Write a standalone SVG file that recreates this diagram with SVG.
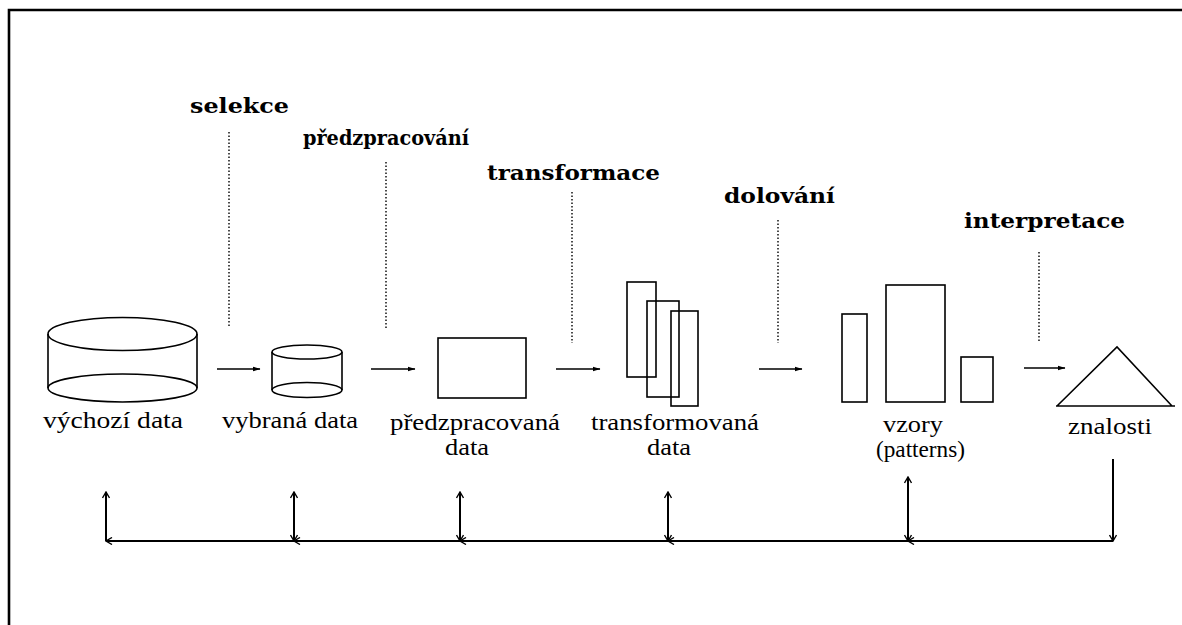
<svg xmlns="http://www.w3.org/2000/svg" width="1182" height="625" viewBox="0 0 1182 625">
  <style>
    .ln { fill: none; stroke: #000; stroke-width: 1.6; }
    .dot { fill: none; stroke: #000; stroke-width: 1.4; stroke-dasharray: 1.5 2; }
    .flow { fill: none; stroke: #000; stroke-width: 1.6; marker-end: url(#head); }
    .fb { fill: none; stroke: #000; stroke-width: 2; }
    .step { font-family: "DejaVu Serif", "Liberation Serif", serif; font-weight: bold; font-size: 21px; fill: #000; }
    .lbl { font-family: "Liberation Serif", "DejaVu Serif", serif; font-size: 23px; fill: #000; }
  </style>
  <defs>
    <marker id="head" viewBox="0 0 8 6" refX="7.5" refY="3" markerWidth="8" markerHeight="6" markerUnits="userSpaceOnUse" orient="auto">
      <path d="M0,0.5 L8,3 L0,5.5 z" fill="#000"/>
    </marker>
    <marker id="chev" viewBox="0 0 8 8" refX="7" refY="4" markerWidth="8" markerHeight="8" markerUnits="userSpaceOnUse" orient="auto-start-reverse">
      <path d="M1,0.5 L7,4 L1,7.5" fill="none" stroke="#000" stroke-width="1.4"/>
    </marker>
  </defs>

  <rect width="1182" height="625" fill="#fff"/>
  <!-- frame -->
  <path d="M9,625 V10 H1182" fill="none" stroke="#000" stroke-width="2.6"/>

  <!-- step headings with their dotted guide lines -->
  <g id="selekce">
    <text class="step" x="190" y="113" textLength="99" lengthAdjust="spacingAndGlyphs">selekce</text>
    <line class="dot" x1="229" y1="132" x2="229" y2="328"/>
  </g>
  <g id="predzpracovani">
    <text class="step" x="303" y="145" textLength="166" lengthAdjust="spacingAndGlyphs">předzpracování</text>
    <line class="dot" x1="386" y1="162" x2="386" y2="330"/>
  </g>
  <g id="transformace">
    <text class="step" x="487" y="180" textLength="173" lengthAdjust="spacingAndGlyphs">transformace</text>
    <line class="dot" x1="572" y1="192" x2="572" y2="343"/>
  </g>
  <g id="dolovani">
    <text class="step" x="724" y="203" textLength="111" lengthAdjust="spacingAndGlyphs">dolování</text>
    <line class="dot" x1="778" y1="220" x2="778" y2="343"/>
  </g>
  <g id="interpretace">
    <text class="step" x="964" y="228" textLength="161" lengthAdjust="spacingAndGlyphs">interpretace</text>
    <line class="dot" x1="1039" y1="252" x2="1039" y2="342"/>
  </g>

  <!-- data stages -->
  <g id="vychozi-data">
    <ellipse class="ln" cx="122.5" cy="334" rx="74.5" ry="16.5"/>
    <ellipse class="ln" cx="122.5" cy="388" rx="74.5" ry="14"/>
    <line class="ln" x1="48" y1="334" x2="48" y2="388"/>
    <line class="ln" x1="197" y1="334" x2="197" y2="388"/>
    <text class="lbl" x="43" y="428" textLength="140" lengthAdjust="spacingAndGlyphs">výchozí data</text>
  </g>
  <g id="vybrana-data">
    <ellipse class="ln" cx="307" cy="352" rx="35" ry="7"/>
    <ellipse class="ln" cx="307" cy="390" rx="35" ry="7.5"/>
    <line class="ln" x1="272" y1="352" x2="272" y2="390"/>
    <line class="ln" x1="342" y1="352" x2="342" y2="390"/>
    <text class="lbl" x="222" y="428" textLength="136" lengthAdjust="spacingAndGlyphs">vybraná data</text>
  </g>
  <g id="predzpracovana-data">
    <rect class="ln" x="438" y="338" width="88" height="60"/>
    <text class="lbl" x="390" y="430" textLength="170" lengthAdjust="spacingAndGlyphs">předzpracovaná</text>
    <text class="lbl" x="445" y="455" textLength="44" lengthAdjust="spacingAndGlyphs">data</text>
  </g>
  <g id="transformovana-data">
    <rect class="ln" x="627" y="282" width="29" height="95"/>
    <rect class="ln" x="647" y="301" width="32" height="96"/>
    <rect class="ln" x="671" y="311" width="27" height="95"/>
    <text class="lbl" x="591" y="430" textLength="168" lengthAdjust="spacingAndGlyphs">transformovaná</text>
    <text class="lbl" x="647" y="455" textLength="44" lengthAdjust="spacingAndGlyphs">data</text>
  </g>
  <g id="vzory">
    <rect class="ln" x="842" y="314" width="25" height="88"/>
    <rect class="ln" x="886" y="285" width="59" height="117"/>
    <rect class="ln" x="961" y="357" width="32" height="45"/>
    <text class="lbl" x="883" y="432" textLength="60" lengthAdjust="spacingAndGlyphs">vzory</text>
    <text class="lbl" x="876" y="457" textLength="89" lengthAdjust="spacingAndGlyphs">(patterns)</text>
  </g>
  <g id="znalosti">
    <path class="ln" d="M1057,406 L1117,347 L1172,406 M1056,406 H1175"/>
    <text class="lbl" x="1068" y="434" textLength="84" lengthAdjust="spacingAndGlyphs">znalosti</text>
  </g>

  <!-- connectors -->
  <g id="connectors">
    <line class="flow" x1="217" y1="369" x2="260" y2="369"/>
    <line class="flow" x1="371" y1="369" x2="415" y2="369"/>
    <line class="flow" x1="556" y1="369" x2="600" y2="369"/>
    <line class="flow" x1="759" y1="369" x2="802" y2="369"/>
    <line class="flow" x1="1024" y1="368" x2="1065" y2="368"/>

    <!-- feedback loop along the bottom -->
    <line class="fb" x1="1113" y1="459" x2="1113" y2="541" stroke-width="1.6" marker-end="url(#chev)"/>
    <line class="fb" x1="1113" y1="541" x2="908" y2="541" marker-end="url(#chev)"/>
    <line class="fb" x1="908" y1="541" x2="668" y2="541" marker-end="url(#chev)"/>
    <line class="fb" x1="668" y1="541" x2="460" y2="541" marker-end="url(#chev)"/>
    <line class="fb" x1="460" y1="541" x2="294" y2="541" marker-end="url(#chev)"/>
    <line class="fb" x1="294" y1="541" x2="106" y2="541" marker-end="url(#chev)"/>
    <line class="fb" x1="908" y1="541" x2="908" y2="477" marker-start="url(#chev)" marker-end="url(#chev)"/>
    <line class="fb" x1="668" y1="541" x2="668" y2="492" marker-start="url(#chev)" marker-end="url(#chev)"/>
    <line class="fb" x1="460" y1="541" x2="460" y2="492" marker-start="url(#chev)" marker-end="url(#chev)"/>
    <line class="fb" x1="294" y1="541" x2="294" y2="492" marker-start="url(#chev)" marker-end="url(#chev)"/>
    <line class="fb" x1="106" y1="541" x2="106" y2="492" marker-end="url(#chev)"/>
  </g>
</svg>
